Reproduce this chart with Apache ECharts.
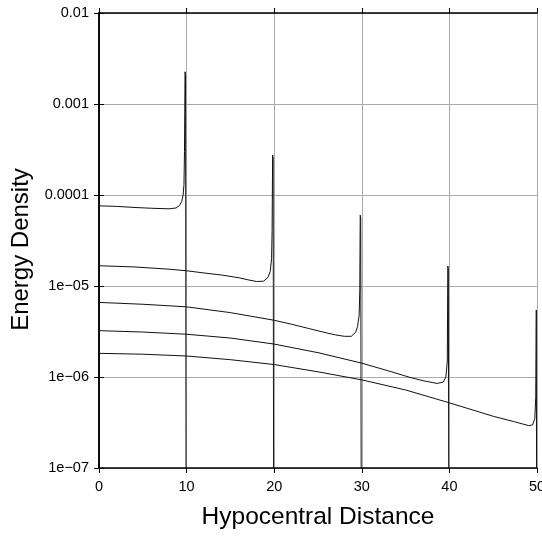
<!DOCTYPE html>
<html>
<head>
<meta charset="utf-8">
<script src="https://cdn.jsdelivr.net/npm/echarts@6/dist/echarts.min.js"></script>
<style>
html,body{margin:0;padding:0;background:#fff;}
#c{width:542px;height:536px;}
</style>
</head>
<body>
<div id="c"></div>
<script>
// ---- data ----
var xTicks = [0, 10, 20, 30, 40, 50];
var yTickLabels = {"-7": "1e\u221207", "-6": "1e\u221206", "-5": "1e\u221205", "-4": "0.0001", "-3": "0.001", "-2": "0.01"};

var x1 = [0, 2, 4, 6, 8, 8.8, 9.2, 9.45, 9.6, 9.7, 9.76, 9.82, 9.88, 9.97];
var y1 = [7.6e-5, 7.5e-5, 7.3e-5, 7.15e-5, 7.05e-5, 7.2e-5, 7.7e-5, 8.5e-5, 1.0e-4, 1.3e-4, 3e-4, 2.26e-3, 2.1e-3, 1e-10];

var x2 = [0, 4, 8, 10, 12, 14, 16, 17, 18, 18.8, 19.3, 19.55, 19.7, 19.76, 19.82, 19.88, 19.97];
var y2 = [1.67e-5, 1.62e-5, 1.53e-5, 1.47e-5, 1.39e-5, 1.32e-5, 1.23e-5, 1.17e-5, 1.12e-5, 1.13e-5, 1.25e-5, 1.45e-5, 2.0e-5, 4e-5, 2.75e-4, 2.55e-4, 1e-10];

var x3 = [0, 5, 10, 15, 20, 22, 24, 26, 27, 28, 28.8, 29.3, 29.52, 29.7, 29.77, 29.82, 29.88, 29.98];
var y3 = [6.6e-6, 6.3e-6, 5.9e-6, 5.1e-6, 4.2e-6, 3.8e-6, 3.4e-6, 3.05e-6, 2.9e-6, 2.8e-6, 2.8e-6, 3.1e-6, 3.6e-6, 4.8e-6, 9e-6, 6.0e-5, 5.6e-5, 1e-10];

var x4 = [0, 5, 10, 15, 20, 25, 30, 33, 35.5, 37, 38.6, 39.3, 39.6, 39.76, 39.82, 39.88, 39.97];
var y4 = [3.23e-6, 3.12e-6, 2.95e-6, 2.68e-6, 2.3e-6, 1.85e-6, 1.42e-6, 1.17e-6, 9.9e-7, 9.1e-7, 8.5e-7, 8.8e-7, 1.0e-6, 1.5e-6, 1.66e-5, 1.55e-5, 1e-10];

var x5 = [0, 5, 10, 15, 20, 25, 30, 35, 40, 45, 47.4, 49.06, 49.5, 49.75, 49.86, 49.92, 49.96, 50];
var y5 = [1.82e-6, 1.78e-6, 1.70e-6, 1.55e-6, 1.37e-6, 1.14e-6, 9.3e-7, 7.2e-7, 5.2e-7, 3.7e-7, 3.23e-7, 2.92e-7, 2.98e-7, 3.5e-7, 6e-7, 5.45e-6, 5.2e-6, 1e-10];

var curves = [[x1, y1], [x2, y2], [x3, y3], [x4, y4], [x5, y5]];

// ---- chart ----
var chart = echarts.init(document.getElementById('c'), null, {renderer: 'canvas'});
var font = 'Liberation Sans, Arial, Helvetica, sans-serif';

function pairs(xs, ys) {
  var out = [];
  for (var i = 0; i < xs.length; i++) out.push([xs[i], ys[i]]);
  return out;
}

var series = curves.map(function (c, i) {
  return {
    type: 'line',
    name: 'c' + (i + 1),
    data: pairs(c[0], c[1]),
    showSymbol: false,
    symbol: 'none',
    clip: true,
    lineStyle: {color: '#111', width: 1},
    z: 5,
    animation: false
  };
});

var axisLineStyle = {color: '#000', width: 1.5};

var option = {
  animation: false,
  backgroundColor: '#fff',
  grid: {left: 99, right: 5, top: 13, bottom: 68, containLabel: false, outerBoundsMode: 'none'},
  xAxis: [{
    type: 'value',
    position: 'bottom',
    min: 0, max: 50, interval: 10,
    name: 'Hypocentral Distance',
    nameLocation: 'middle',
    nameGap: 37,
    nameTextStyle: {fontFamily: font, fontSize: 24.5, color: '#000'},
    axisLine: {show: true, lineStyle: axisLineStyle},
    axisTick: {show: true, inside: false, length: 5, lineStyle: {color: '#000', width: 1}},
    axisLabel: {fontFamily: font, fontSize: 14.5, color: '#000', margin: 11, hideOverlap: false, showMaxLabel: true,
      formatter: function (v) { return xTicks.indexOf(v) >= 0 ? String(v) : ''; }},
    splitLine: {show: true, lineStyle: {color: '#aaa', width: 1}}
  }, {
    type: 'value',
    position: 'top',
    min: 0, max: 50, interval: 10,
    axisLine: {show: true, lineStyle: axisLineStyle},
    axisTick: {show: true, inside: false, length: 5, lineStyle: {color: '#000', width: 1}},
    axisLabel: {show: false},
    splitLine: {show: false}
  }],
  yAxis: [{
    type: 'log',
    logBase: 10,
    position: 'left',
    min: 1e-7, max: 0.01,
    name: 'Energy Density',
    nameLocation: 'middle',
    nameGap: 54,
    nameTextStyle: {fontFamily: font, fontSize: 24, color: '#000', padding: [0, 18, 0, 0]},
    axisLine: {show: true, lineStyle: axisLineStyle},
    axisTick: {show: true, inside: false, length: 5, lineStyle: {color: '#000', width: 1}},
    axisLabel: {fontFamily: font, fontSize: 14.5, color: '#000', margin: 10,
      formatter: function (v) {
        var e = Math.round(Math.log(v) / Math.LN10);
        return yTickLabels[String(e)] || '';
      }},
    splitLine: {show: true, lineStyle: {color: '#aaa', width: 1}}
  }, {
    type: 'log',
    logBase: 10,
    position: 'right',
    min: 1e-7, max: 0.01,
    axisLine: {show: true, lineStyle: axisLineStyle},
    axisTick: {show: true, inside: false, length: 5, lineStyle: {color: '#000', width: 1}},
    axisLabel: {show: false},
    splitLine: {show: false}
  }],
  series: series
};
chart.setOption(option);
</script>
</body>
</html>
